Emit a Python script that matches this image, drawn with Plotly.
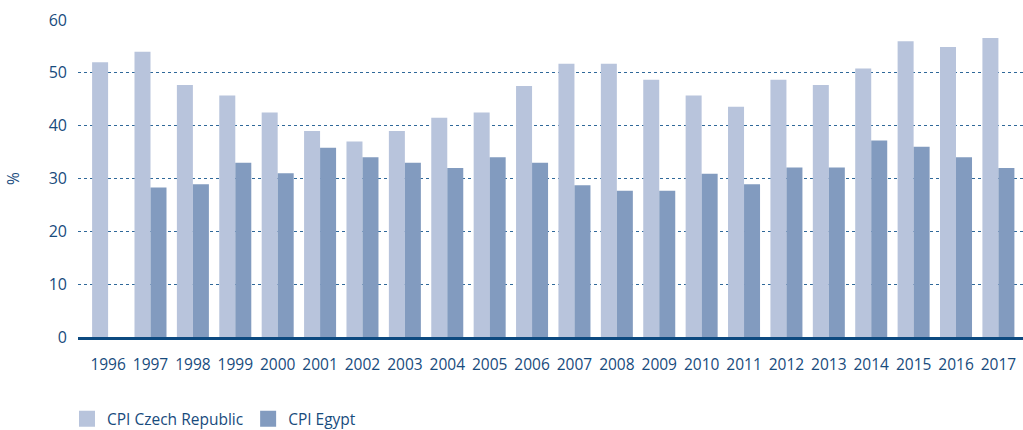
import plotly.graph_objects as go

years = [str(y) for y in range(1996, 2018)]
cpi_czech = [52, 54, 47.7, 45.7, 42.5, 39, 37, 39, 41.5, 42.5, 47.5, 51.7, 51.7, 48.7,
             45.7, 43.6, 48.7, 47.7, 50.8, 56, 54.9, 56.6]
cpi_egypt = [None, 28.3, 28.9, 33, 31, 35.8, 34, 33, 32, 34, 33, 28.7, 27.7, 27.7,
             30.9, 28.9, 32.1, 32.1, 37.2, 36, 34, 32]

C_LIGHT = "#b8c4dc"
C_DARK = "#829bbf"
TXT = "#184b7d"
FONT = "Open Sans"

fig = go.Figure()
fig.add_trace(go.Bar(x=years, y=cpi_czech, name="CPI Czech Republic",
                     marker=dict(color=C_LIGHT, line=dict(width=0)), showlegend=False))
fig.add_trace(go.Bar(x=years, y=cpi_egypt, name="CPI Egypt",
                     marker=dict(color=C_DARK, line=dict(width=0)), showlegend=False))
# legend entries
fig.add_trace(go.Scatter(x=[None], y=[None], mode="markers", name="CPI Czech Republic",
                         marker=dict(symbol="square", size=16, color=C_LIGHT)))
fig.add_trace(go.Scatter(x=[None], y=[None], mode="markers", name="CPI Egypt",
                         marker=dict(symbol="square", size=16, color=C_DARK)))

fig.update_layout(
    width=1023, height=430,
    margin=dict(l=78, r=0, t=20, b=93),
    paper_bgcolor="white", plot_bgcolor="white",
    barmode="group", bargap=0.245, bargroupgap=0,
    font=dict(family=FONT, size=15, color=TXT),
    showlegend=True,
    legend=dict(orientation="h", xref="container", x=0.0655, xanchor="left",
                yref="container", y=0.025, yanchor="middle",
                font=dict(family=FONT, size=15.5, color=TXT), itemwidth=30,
                tracegroupgap=0, bgcolor="rgba(0,0,0,0)"),
    xaxis=dict(type="category", range=[-0.71, 21.58], showgrid=False,
               showline=True, linecolor="#0d4a80", linewidth=2.5,
               ticks="", ticklabelstandoff=12, automargin=False,
               tickfont=dict(family=FONT, size=15.5, color=TXT)),
    yaxis=dict(range=[0, 60], tickvals=[0, 10, 20, 30, 40, 50, 60],
               showgrid=True, gridcolor="#2f6899", gridwidth=1.3, griddash="dot",
               zeroline=False, showline=False, ticks="", ticklabelstandoff=10,
               automargin=False,
               tickfont=dict(family=FONT, size=16, color=TXT),
               title=dict(text="%", standoff=25, font=dict(family=FONT, size=15.5, color=TXT))),
)

fig.write_html("out.html", config={"displayModeBar": False},
               post_script="document.body.style.margin='0';document.body.style.overflow='hidden';")
